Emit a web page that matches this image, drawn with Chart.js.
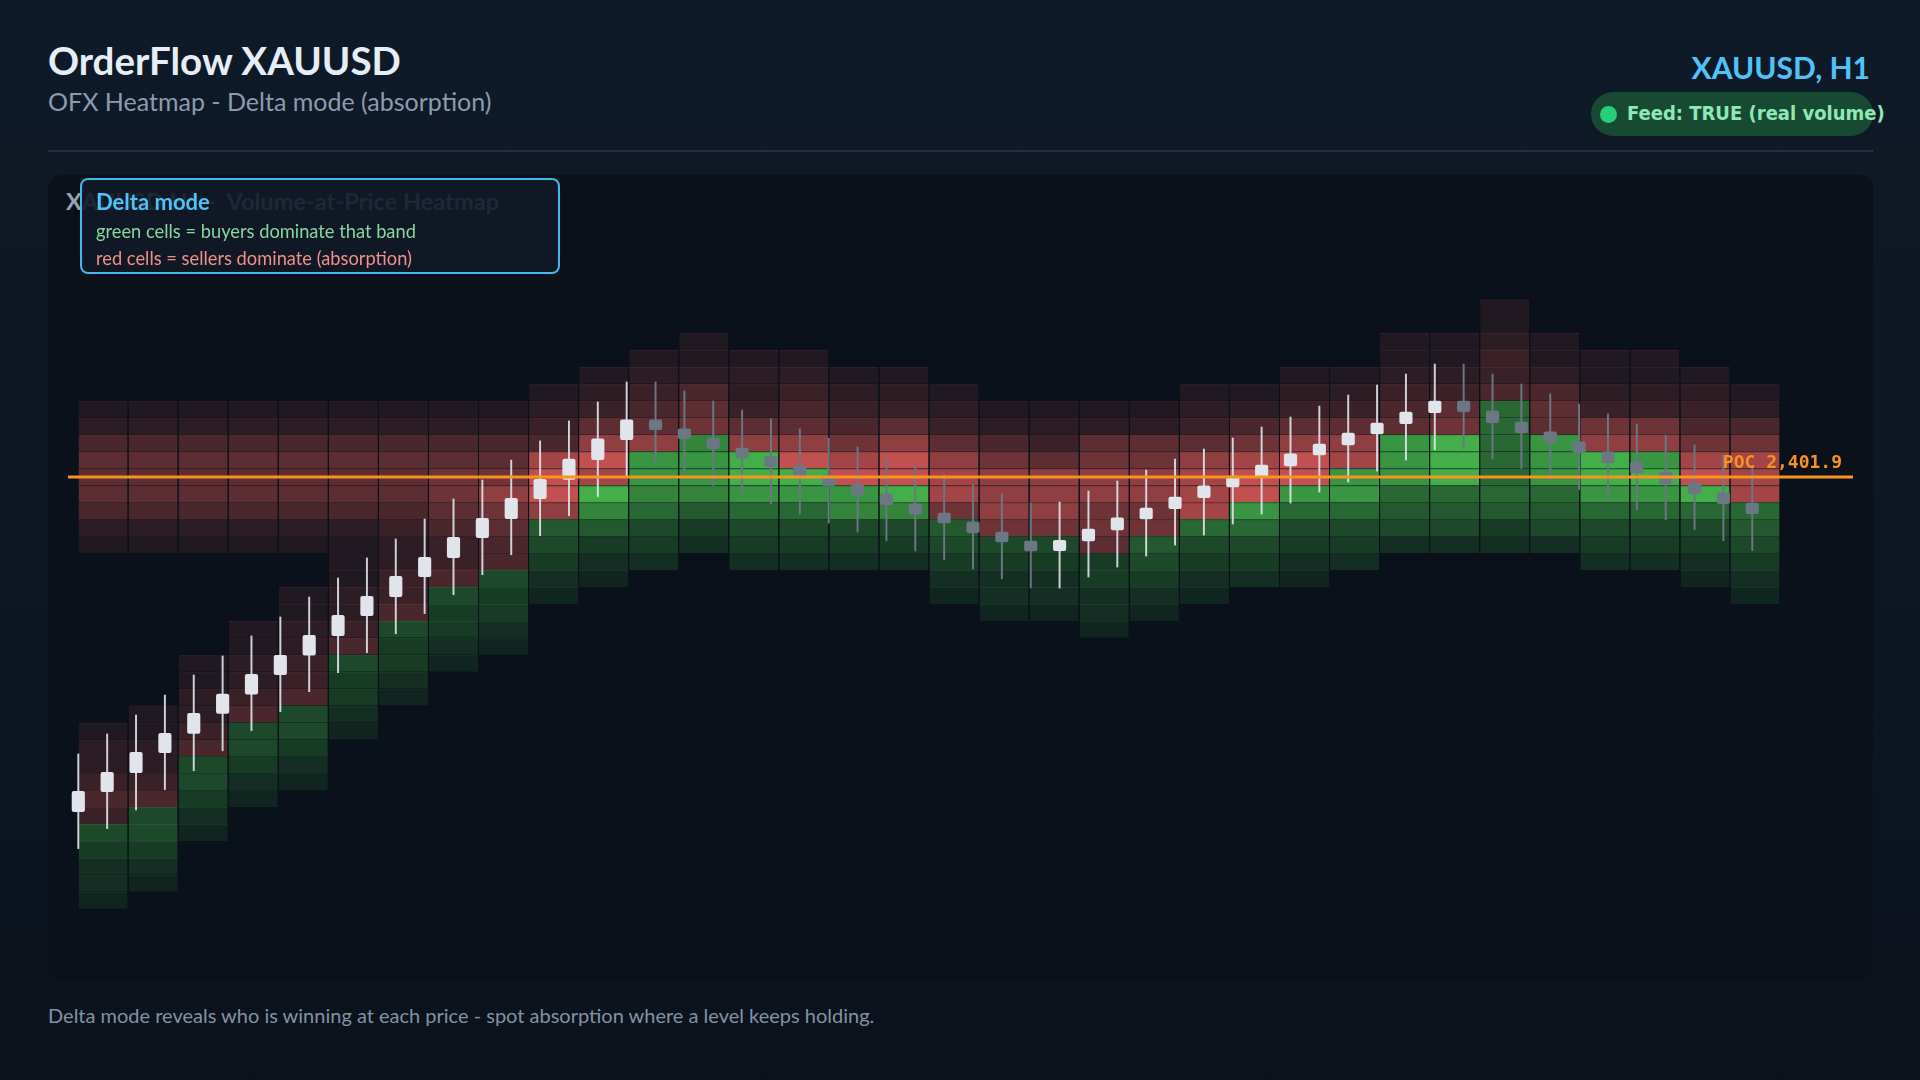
<!DOCTYPE html>
<html>
<head>
<meta charset="utf-8">
<title>OrderFlow XAUUSD</title>
<script src="https://cdn.jsdelivr.net/npm/chart.js@4.4.1/dist/chart.umd.min.js"></script>
<style>
  html, body { margin: 0; padding: 0; }
  body {
    width: 1920px; height: 1080px; overflow: hidden; position: relative;
    background: linear-gradient(180deg, #0f1a28 0%, #0b121c 100%);
    font-family: Lato, "Noto Sans", sans-serif;
  }
  .abs { position: absolute; white-space: nowrap; line-height: 1; }
  #title { left: 48px; top: 41px; font-size: 38.5px; font-weight: 700; color: #e6edf5; }
  #subtitle { left: 48px; top: 89px; font-size: 25px; color: #8c9bb0; }
  #symbol { right: 50px; top: 52px; font-size: 30px; font-weight: 700; color: #4fc3f7; }
  #feed { left: 1591px; top: 92px; width: 282px; height: 44px; border-radius: 22px; background: #184a33; }
  #feedDot { left: 1600px; top: 106px; width: 17px; height: 17px; border-radius: 50%; background: #27cf7c; }
  #feedText { left: 1627px; top: 103px; font-family: "DejaVu Sans Condensed", "DejaVu Sans", sans-serif; font-stretch: condensed; font-size: 20px; font-weight: 700; color: #90e8b4; }
  #rule { left: 48px; top: 150px; width: 1825px; height: 2px; background: #253140; }
  #panel { left: 48px; top: 175px; width: 1825px; height: 805px; border-radius: 14px; background: #0a111a; }
  #chartTitle { left: 66px; top: 190px; font-size: 23.6px; font-weight: 700; color: #96a3b4; }
  #chartBox { left: 68px; top: 200px; width: 1785px; height: 760px; }
  #legendBox { left: 80px; top: 178px; width: 476px; height: 92px; border: 2px solid #3fb8f0; border-radius: 8px; background: rgba(17, 26, 40, 0.9); }
  #lgHead { left: 96px; top: 191px; font-size: 22px; font-weight: 700; color: #4fc3f7; }
  #lgBuy { left: 96px; top: 222px; font-size: 18.3px; color: #86d7a0; }
  #lgSell { left: 96px; top: 249px; font-size: 18.3px; color: #f0908a; }
  #footer { left: 48px; top: 1005px; font-size: 20px; color: #8292a6; }
</style>
</head>
<body>
<div class="abs" id="title">OrderFlow XAUUSD</div>
<div class="abs" id="subtitle">OFX Heatmap - Delta mode (absorption)</div>
<div class="abs" id="symbol">XAUUSD, H1</div>
<div class="abs" id="feed"></div>
<div class="abs" id="feedDot"></div>
<div class="abs" id="feedText">Feed: TRUE (real volume)</div>
<div class="abs" id="rule"></div>
<div class="abs" id="panel"></div>
<div class="abs" id="chartTitle">XAUUSD H1 - &nbsp;Volume-at-Price Heatmap</div>
<div class="abs" id="chartBox"><canvas id="heatChart"></canvas></div>
<div class="abs" id="legendBox"></div>
<div class="abs" id="lgHead">Delta mode</div>
<div class="abs" id="lgBuy">green cells = buyers dominate that band</div>
<div class="abs" id="lgSell">red cells = sellers dominate (absorption)</div>
<div class="abs" id="footer">Delta mode reveals who is winning at each price - spot absorption where a level keeps holding.</div>

<script>
(function() {
    "use strict";

    // Candles (H1), one value per bar
    const OPEN = [2382.13, 2383.31, 2384.43, 2385.62, 2386.76, 2387.94, 2389.07, 2390.22, 2391.37, 2392.53,
                  2393.71, 2394.83, 2396.01, 2397.13, 2398.31, 2399.44, 2400.62, 2401.75, 2402.92, 2404.10,
                  2405.27, 2404.74, 2404.20, 2403.61, 2403.10, 2402.55, 2401.99, 2401.43, 2400.90, 2400.31,
                  2399.77, 2399.24, 2398.65, 2398.12, 2397.55, 2398.12, 2398.77, 2399.42, 2400.03, 2400.68,
                  2401.31, 2401.90, 2402.55, 2403.20, 2403.79, 2404.44, 2405.05, 2405.70, 2406.39, 2405.80,
                  2405.15, 2404.56, 2403.97, 2403.38, 2402.79, 2402.20, 2401.55, 2400.96, 2400.36];
    const HIGH = [2385.54, 2386.72, 2387.84, 2389.02, 2390.20, 2391.33, 2392.51, 2393.63, 2394.81, 2395.93,
                  2397.12, 2398.24, 2399.42, 2400.60, 2401.72, 2402.90, 2404.03, 2405.21, 2406.33, 2407.51,
                  2407.51, 2406.98, 2406.39, 2405.86, 2405.33, 2404.74, 2404.20, 2403.67, 2403.08, 2402.55,
                  2402.02, 2401.43, 2400.90, 2400.36, 2400.42, 2401.07, 2401.66, 2402.31, 2402.96, 2403.55,
                  2404.20, 2404.85, 2405.44, 2406.09, 2406.74, 2407.33, 2407.98, 2408.57, 2408.57, 2407.98,
                  2407.39, 2406.80, 2406.21, 2405.62, 2405.03, 2404.38, 2403.79, 2403.20, 2402.55];
    const LOW = [2379.95, 2381.13, 2382.23, 2383.43, 2384.55, 2385.73, 2386.92, 2388.04, 2389.22, 2390.34,
                 2391.52, 2392.64, 2393.83, 2394.95, 2396.13, 2397.31, 2398.43, 2399.61, 2400.74, 2401.94,
                 2402.49, 2401.92, 2401.39, 2400.85, 2400.31, 2399.71, 2399.18, 2398.65, 2398.12, 2397.53,
                 2397.00, 2396.47, 2395.88, 2395.34, 2395.34, 2395.99, 2396.58, 2397.23, 2397.88, 2398.47,
                 2399.12, 2399.71, 2400.36, 2401.01, 2401.60, 2402.25, 2402.90, 2403.50, 2403.55, 2402.96,
                 2402.39, 2401.74, 2401.15, 2400.56, 2399.97, 2399.38, 2398.79, 2398.14, 2397.55];
    const CLOSE = [2383.34, 2384.46, 2385.64, 2386.76, 2387.94, 2389.07, 2390.25, 2391.37, 2392.55, 2393.73,
                   2394.85, 2396.03, 2397.16, 2398.34, 2399.46, 2400.64, 2401.76, 2402.95, 2404.15, 2405.27,
                   2404.69, 2404.16, 2403.57, 2403.02, 2402.51, 2401.96, 2401.39, 2400.84, 2400.26, 2399.71,
                   2399.18, 2398.61, 2398.06, 2397.53, 2398.16, 2398.83, 2399.48, 2400.07, 2400.72, 2401.37,
                   2401.96, 2402.61, 2403.26, 2403.85, 2404.50, 2405.09, 2405.74, 2406.39, 2405.76, 2405.11,
                   2404.52, 2403.93, 2403.34, 2402.75, 2402.15, 2401.49, 2400.91, 2400.32, 2399.73];

    // Point of control and price band of one heatmap row
    const POC = 2401.9;
    const BAND = 1.0;

    // Heatmap: per column, first row (bands from POC, + = below), then
    // sell-dominant levels (1-9, "." = no volume) followed by buy-dominant levels
    const HEAT_TOP = [-4, -4, -4, -4, -4, -4, -4, -4, -4, -5, -6, -7, -8, -7, -7, -6, -6,
                      -5, -4, -4, -4, -4, -5, -5, -6, -6, -8, -8, -10, -8, -7, -7, -6, -5];
    const HEAT_SELL = [
        "124555421..........122343", "124555421.........112234", "124555421......112234",
        "124555421....112234", "124555421..1122334", "124555421112234", "1245554322334",
        "12456654334", "1245676544", "12348997", "1235798", "123457", "112456", "122357",
        "1234579", "1234689", "1235799", "12357886", "12467776", "12357776", "125677665",
        "12567766", "12357888", "1246899", "1235799", "123578", "112345", "112356", "112334",
        "112455", "112367", "112367", "1234689", "1246888"
    ];
    const HEAT_BUY = [
        "43221", "44321", "44321", "44321", "44321", "43321", "43321", "43321", "43321", "54321",
        "975321", "8876432", "7887532", "9986432", "986432", "87432", "97432", "54321", "43221",
        "43221", "33221", "54321", "64321", "86432", "864321", "886432", "8886542", "9996542",
        "666666532", "8886542", "9986432", "8986432", "964321", "654321"
    ];

    // Styles
    const ALPHA = [0, 0.10, 0.15, 0.21, 0.28, 0.36, 0.44, 0.58, 0.67, 0.80];
    const SELL_RGB = '239, 96, 94';
    const BUY_RGB = '82, 215, 86';
    const UP_BODY = '#e1e4ea', DOWN_BODY = '#6c7784';
    const UP_WICK = 'rgba(225, 229, 236, 0.9)', DOWN_WICK = '#6c7784';
    const POC_COLOR = '#f7931e';

    // Candle x axis (bar index) and heat x axis (column index) share the plot width
    const X_MIN = -0.357, X_MAX = 61.49;
    const XH_MIN = -0.2, XH_MAX = 35.457;
    const Y_MIN = 2373.37, Y_MAX = 2418.26;

    // Build heat cells
    var heatData = [], heatFill = [], heatEdge = [];
    HEAT_TOP.forEach(function(top, c) {
        var levels = HEAT_SELL[c] + HEAT_BUY[c];
        var split = HEAT_SELL[c].length;
        for (var j = 0; j < levels.length; j++) {
            if (levels[j] === '.') continue;
            var lv = parseInt(levels[j], 10);
            var k = top + j;
            var rgb = j < split ? SELL_RGB : BUY_RGB;
            heatData.push({ x: c + 0.5, y: [POC - (k + 0.5) * BAND, POC - (k - 0.5) * BAND] });
            heatFill.push('rgba(' + rgb + ', ' + ALPHA[lv] + ')');
            heatEdge.push('rgba(' + rgb + ', ' + Math.min(1, ALPHA[lv] + 0.08).toFixed(2) + ')');
        }
    });

    var up = OPEN.map(function(o, i) { return CLOSE[i] >= o; });

    // POC label on the right end of the line
    const pocLabel = {
        id: 'pocLabel',
        afterDatasetsDraw: function(chart) {
            var ctx = chart.ctx, area = chart.chartArea;
            var y = chart.scales.y.getPixelForValue(POC);
            var txt = 'POC ' + POC.toFixed(1).replace(/^(\d)(\d{3})/, '$1,$2');
            ctx.save();
            ctx.font = 'bold 18px "DejaVu Sans Mono", monospace';
            ctx.fillStyle = POC_COLOR;
            ctx.textAlign = 'right';
            ctx.textBaseline = 'alphabetic';
            ctx.fillText(txt, area.right - 11, y - 9);
            ctx.restore();
        }
    };

    var ctx = document.getElementById('heatChart').getContext('2d');
    var heatChart = new Chart(ctx, {
        type: 'bar',
        data: {
            datasets: [
                {
                    type: 'line',
                    label: 'POC',
                    xAxisID: 'x',
                    data: [{ x: X_MIN, y: POC }, { x: X_MAX, y: POC }],
                    borderColor: POC_COLOR,
                    borderWidth: 2.8,
                    pointRadius: 0,
                    order: 0
                },
                {
                    label: 'Body',
                    xAxisID: 'x',
                    data: OPEN.map(function(o, i) { return { x: i, y: [o, CLOSE[i]] }; }),
                    backgroundColor: up.map(function(u) { return u ? UP_BODY : DOWN_BODY; }),
                    barThickness: 12.5,
                    borderRadius: 2,
                    borderSkipped: false,
                    grouped: false,
                    order: 1
                },
                {
                    label: 'Wick',
                    xAxisID: 'x',
                    data: LOW.map(function(l, i) { return { x: i, y: [l, HIGH[i]] }; }),
                    backgroundColor: up.map(function(u) { return u ? UP_WICK : DOWN_WICK; }),
                    barThickness: 1.3,
                    grouped: false,
                    order: 2
                },
                {
                    label: 'Delta heat',
                    xAxisID: 'xh',
                    data: heatData,
                    backgroundColor: heatFill,
                    borderColor: heatEdge,
                    borderWidth: { top: 1, right: 0, bottom: 0, left: 0 },
                    borderSkipped: false,
                    barPercentage: 0.98,
                    categoryPercentage: 1,
                    grouped: false,
                    order: 3
                }
            ]
        },
        options: {
            responsive: true,
            maintainAspectRatio: false,
            animation: false,
            layout: { padding: 0 },
            plugins: {
                legend: { display: false },
                tooltip: { enabled: false },
                title: { display: false }
            },
            scales: {
                x: { type: 'linear', min: X_MIN, max: X_MAX, offset: false, display: false },
                xh: { type: 'linear', axis: 'x', min: XH_MIN, max: XH_MAX, offset: false, display: false },
                y: { type: 'linear', min: Y_MIN, max: Y_MAX, display: false }
            }
        },
        plugins: [pocLabel]
    });

})();
</script>
</body>
</html>
